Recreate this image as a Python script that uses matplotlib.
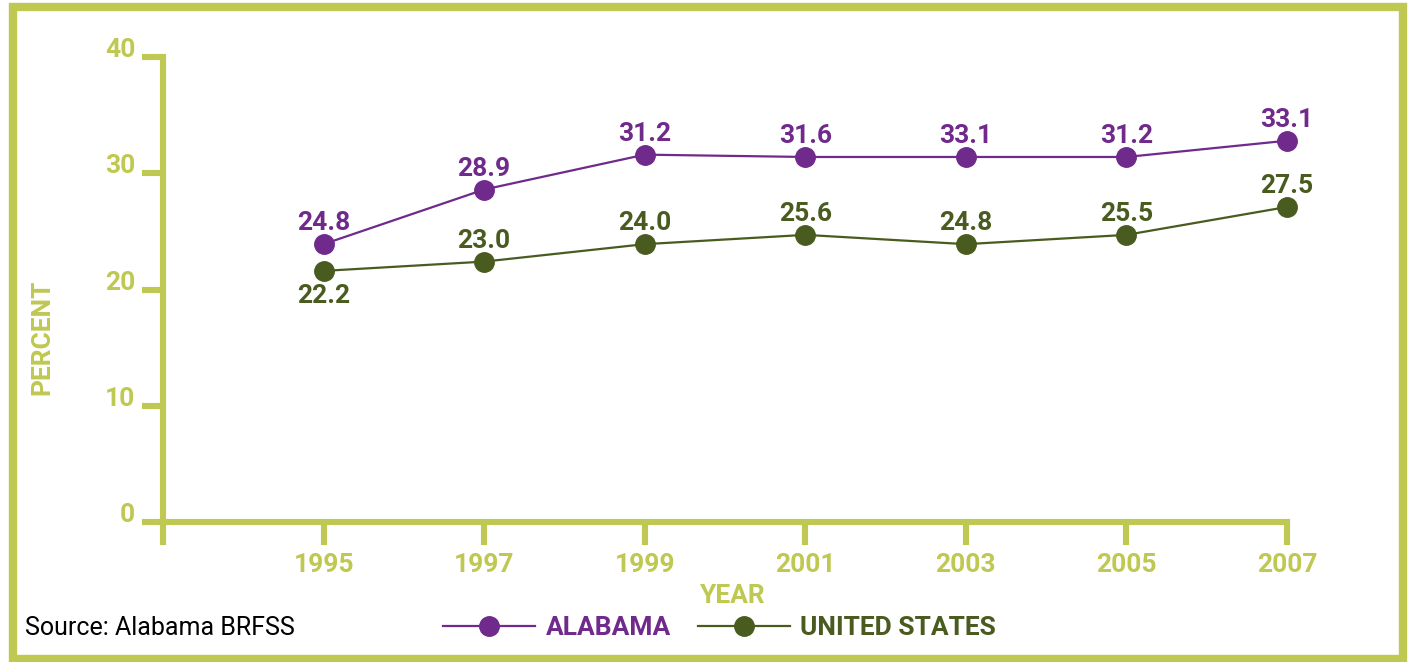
import matplotlib
matplotlib.use("Agg")
import matplotlib.pyplot as plt
from matplotlib.patches import Rectangle
from matplotlib.lines import Line2D

# ---- data ----
years = [1995, 1997, 1999, 2001, 2003, 2005, 2007]
alabama = [23.9, 28.6, 31.6, 31.4, 31.4, 31.4, 32.8]
united_states = [21.6, 22.4, 23.9, 24.7, 23.9, 24.7, 27.1]
alabama_labels = ["24.8", "28.9", "31.2", "31.6", "33.1", "31.2", "33.1"]
us_labels = ["22.2", "23.0", "24.0", "25.6", "24.8", "25.5", "27.5"]
y_ticks = [0, 10, 20, 30, 40]
x_ticks = [1993, 1995, 1997, 1999, 2001, 2003, 2005, 2007]
x_ticklabels = ["", "1995", "1997", "1999", "2001", "2003", "2005", "2007"]

GREEN = "#bfc850"
PURPLE = "#6f2a8b"
DARK = "#4a5b20"

plt.rcParams["font.family"] = ["Roboto", "DejaVu Sans"]

W, H = 1408, 662
fig = plt.figure(figsize=(W / 100, H / 100), dpi=100)
ax = fig.add_axes([163 / W, 1 - 522 / H, (1287 - 163) / W, (522 - 57) / H])

ax.set_xlim(1993, 2007)
ax.set_ylim(0, 40)

for s in ["top", "right"]:
    ax.spines[s].set_visible(False)
for s in ["left", "bottom"]:
    ax.spines[s].set_color(GREEN)
    ax.spines[s].set_linewidth(4.4)
    ax.spines[s].set_capstyle("projecting")

ax.set_yticks(y_ticks)
ax.set_yticklabels([str(v) for v in y_ticks])
ax.set_xticks(x_ticks)
ax.set_xticklabels(x_ticklabels)
ax.tick_params(axis="y", direction="out", length=15, width=4.4, color=GREEN,
               labelcolor=GREEN, labelsize=19, pad=5)
ax.tick_params(axis="x", direction="out", length=16.5, width=4.4, color=GREEN,
               labelcolor=GREEN, labelsize=19, pad=6)
for lab in ax.get_yticklabels():
    lab.set_fontweight("bold")
    lab.set_va("baseline")
for lab in ax.get_xticklabels():
    lab.set_fontweight("bold")

ax.plot(years, alabama, color=PURPLE, lw=1.6, marker="o", ms=14, clip_on=False, zorder=3)
ax.plot(years, united_states, color=DARK, lw=1.6, marker="o", ms=14, clip_on=False, zorder=3)

for x, y, t in zip(years, alabama, alabama_labels):
    ax.annotate(t, (x, y), xytext=(0, 14), textcoords="offset pixels", ha="center",
                va="baseline", color=PURPLE, fontsize=19, fontweight="bold",
                annotation_clip=False)
for i, (x, y, t) in enumerate(zip(years, united_states, us_labels)):
    off = -32 if i == 0 else 14
    ax.annotate(t, (x, y), xytext=(0, off), textcoords="offset pixels", ha="center",
                va="baseline", color=DARK, fontsize=19, fontweight="bold",
                annotation_clip=False)

# axis titles
fig.text(733 / W, 1 - 596 / H, "YEAR", ha="center", va="center", color=GREEN,
         fontsize=19, fontweight="bold")
fig.text(42 / W, 1 - 337 / H, "PERCENT", ha="center", va="center", rotation=90,
         color=GREEN, fontsize=19, fontweight="bold")

# source
fig.text(25 / W, 1 - 628 / H, "Source: Alabama BRFSS", ha="left", va="center",
         color="black", fontsize=18)

# legend
handles = [Line2D([0], [0], color=PURPLE, lw=1.6, marker="o", ms=14),
           Line2D([0], [0], color=DARK, lw=1.6, marker="o", ms=14)]
leg = fig.legend(handles, ["ALABAMA", "UNITED STATES"], loc="center left",
                 bbox_to_anchor=(443 / W, 1 - 628 / H), ncol=2, frameon=False,
                 handlelength=3.5, handletextpad=0.4, columnspacing=1.0,
                 borderpad=0, borderaxespad=0,
                 prop={"size": 19, "weight": "bold"})
for txt, c in zip(leg.get_texts(), [PURPLE, DARK]):
    txt.set_color(c)

# outer frame
fig.patches.append(Rectangle((12.5 / W, 1 - 659 / H), (1403 - 12.5) / W, (659 - 7) / H,
                             transform=fig.transFigure, fill=False, edgecolor=GREEN,
                             linewidth=6, figure=fig))

fig.savefig("out.png", dpi=100)
